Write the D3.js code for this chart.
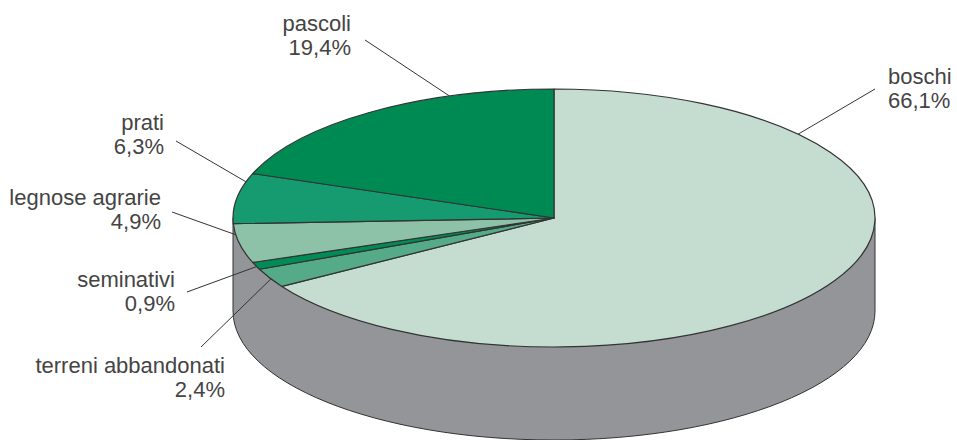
<!doctype html>
<html lang="it">
<head>
  <meta charset="utf-8">
  <title>Uso del suolo</title>
  <script src="https://d3js.org/d3.v7.min.js"></script>
  <style>
    html, body { margin: 0; padding: 0; background: #fff; }
    svg { display: block; }
    text { font-family: "Liberation Sans", Arial, sans-serif; font-size: 22px; fill: #444; }
  </style>
</head>
<body>
  <script type="text/javascript">
    // slices, clockwise from the top of the pie
    var categories = ["boschi", "terreni abbandonati", "seminativi", "legnose agrarie", "prati", "pascoli"];
    var values = [66.1, 2.4, 0.9, 4.9, 6.3, 19.4];
    var valueLabels = ["66,1%", "2,4%", "0,9%", "4,9%", "6,3%", "19,4%"];
    var colors = ["#c4ddd0", "#55ab87", "#008b57", "#8dc2a8", "#169a6f", "#008a53"];

    var width = 957, height = 440;
    var cx = 554, cy = 218, rx = 321, ry = 129, depth = 93;

    // where each label sits and where its leader line starts and touches the rim
    var labelX = [888, 225, 175, 161, 164, 351];
    var labelY = [84, 373, 287, 205, 130, 31];
    var labelAnchor = ["start", "end", "end", "end", "end", "end"];
    var leaderX = [875, 201, 187, 172, 176, 365];
    var leaderY = [89, 347, 292, 212, 141, 40];
    var leaderAt = [0.208, 0.45, 0.4, 0.72, 0.83, 0.728];

    var svg = d3.select("body").append("svg")
      .attr("width", width)
      .attr("height", height);

    // the wall under the disc
    var side = d3.path();
    side.moveTo(cx - rx, cy);
    side.lineTo(cx - rx, cy + depth);
    side.bezierCurveTo(cx - rx, cy + depth + ry * 0.5523, cx - rx * 0.5523, cy + depth + ry, cx, cy + depth + ry);
    side.bezierCurveTo(cx + rx * 0.5523, cy + depth + ry, cx + rx, cy + depth + ry * 0.5523, cx + rx, cy + depth);
    side.lineTo(cx + rx, cy);
    side.closePath();

    svg.append("path")
      .attr("d", side.toString())
      .attr("fill", "#939598")
      .attr("stroke", "#333")
      .attr("stroke-width", 1);

    var pie = d3.pie().sort(null)(values);
    var arc = d3.arc().innerRadius(0).outerRadius(rx);

    // squash a round pie into the tilted disc
    svg.append("g")
      .attr("transform", "translate(" + cx + "," + cy + ") scale(1," + (ry / rx) + ")")
      .selectAll("path")
      .data(pie)
      .join("path")
      .attr("d", arc)
      .attr("fill", function(d, i) { return colors[i]; })
      .attr("stroke", "#333")
      .attr("stroke-width", 1.2)
      .attr("stroke-linejoin", "round")
      .attr("vector-effect", "non-scaling-stroke");

    // leader lines
    svg.append("g")
      .selectAll("line")
      .data(pie)
      .join("line")
      .attr("x1", function(d, i) { return leaderX[i]; })
      .attr("y1", function(d, i) { return leaderY[i]; })
      .attr("x2", function(d, i) {
        var a = d.startAngle + (d.endAngle - d.startAngle) * leaderAt[i];
        return cx + rx * Math.sin(a);
      })
      .attr("y2", function(d, i) {
        var a = d.startAngle + (d.endAngle - d.startAngle) * leaderAt[i];
        return cy - ry * Math.cos(a);
      })
      .attr("stroke", "#333")
      .attr("stroke-width", 1);

    // labels: name, then share on the next line
    var labels = svg.append("g")
      .selectAll("text")
      .data(categories)
      .join("text")
      .attr("text-anchor", function(d, i) { return labelAnchor[i]; });

    labels.append("tspan")
      .attr("x", function(d, i) { return labelX[i]; })
      .attr("y", function(d, i) { return labelY[i]; })
      .text(function(d) { return d; });

    labels.append("tspan")
      .attr("x", function(d, i) { return labelX[i]; })
      .attr("y", function(d, i) { return labelY[i] + 24; })
      .text(function(d, i) { return valueLabels[i]; });
  </script>
</body>
</html>
